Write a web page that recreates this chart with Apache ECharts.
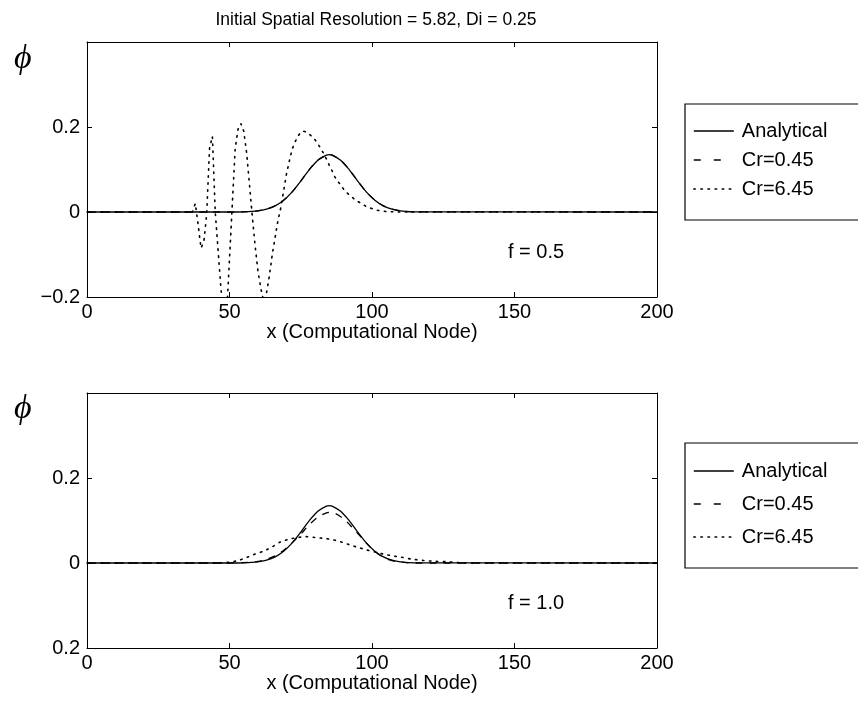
<!DOCTYPE html>
<html>
<head>
<meta charset="utf-8">
<script src="https://cdn.jsdelivr.net/npm/echarts@6/dist/echarts.min.js"></script>
<style>html,body{margin:0;padding:0;background:#fff}#c{width:858px;height:705px}</style>
</head>
<body>
<div id="c"></div>
<script>
// ---- data ----
const titleText = 'Initial Spatial Resolution = 5.82, Di = 0.25';
const xName = 'x (Computational Node)';
const seriesNames = ['Analytical', 'Cr=0.45', 'Cr=6.45'];
const panelTags = ['f = 0.5', 'f = 1.0'];
const yTickLabelsTop = {'-0.2': '\u22120.2', '0': '0', '0.2': '0.2'};
const yTickLabelsBottom = {'-0.2': '0.2', '0': '0', '0.2': '0.2'};

// Analytical solution (same in both panels)
const anaX = [0, 50, 55, 60, 63, 66, 69, 72, 75, 78, 81, 84, 85, 86, 89, 92, 95, 98, 101, 104, 107, 110, 115, 200];
const anaY = [0, 0, 0.0005, 0.0028, 0.0068, 0.0145, 0.0278, 0.0475, 0.0728, 0.0998, 0.122, 0.134, 0.135, 0.134, 0.122, 0.0998, 0.0728, 0.0475, 0.0278, 0.0145, 0.0068, 0.0028, 0.0005, 0];

// f = 0.5, Cr = 0.45 (lies on the analytical curve)
const topCr045X = [0, 50, 55, 60, 63, 66, 69, 72, 75, 78, 81, 84, 85, 86, 89, 92, 95, 98, 101, 104, 107, 110, 115, 200];
const topCr045Y = [0, 0, 0.0005, 0.0028, 0.0068, 0.0145, 0.0278, 0.0475, 0.0728, 0.0998, 0.122, 0.134, 0.135, 0.134, 0.122, 0.0998, 0.0728, 0.0475, 0.0278, 0.0145, 0.0068, 0.0028, 0.0005, 0];

// f = 0.5, Cr = 6.45 (oscillating)
const topCr645X = [0, 37, 38, 39, 40, 41, 42, 43, 44, 45, 46, 47, 48, 49, 50, 51, 52, 53, 54, 55, 56, 57, 58, 59, 60, 61, 62, 63, 64, 65, 66, 67, 68, 69, 70, 71, 72, 73, 74, 75, 76, 77, 78, 79, 80, 81, 82, 83, 84, 85, 86, 87, 88, 89, 90, 91, 92, 93, 94, 95, 96, 97, 98, 100, 102, 105, 110, 200];
const topCr645Y = [0, 0, 0.02, -0.03, -0.085, -0.07, -0.005, 0.15, 0.178, 0.0, -0.09, -0.18, -0.25, -0.24, -0.11, 0.02, 0.15, 0.195, 0.208, 0.19, 0.14, 0.065, -0.01, -0.08, -0.14, -0.18, -0.21, -0.19, -0.15, -0.10, -0.06, -0.02, 0.01, 0.05, 0.09, 0.12, 0.148, 0.165, 0.178, 0.188, 0.19, 0.188, 0.183, 0.177, 0.170, 0.16, 0.15, 0.138, 0.125, 0.11, 0.097, 0.082, 0.072, 0.064, 0.054, 0.047, 0.040, 0.035, 0.029, 0.025, 0.021, 0.017, 0.013, 0.008, 0.004, 0.001, 0, 0];

// f = 1.0, Cr = 0.45
const botCr045X = [0, 50, 55, 60, 63, 66, 69, 72, 75, 78, 81, 84, 85, 87, 90, 93, 96, 99, 102, 105, 108, 112, 115, 200];
const botCr045Y = [0, 0, 0.001, 0.004, 0.009, 0.017, 0.030, 0.048, 0.068, 0.090, 0.108, 0.118, 0.119, 0.117, 0.104, 0.084, 0.062, 0.040, 0.022, 0.010, 0.004, 0.001, 0, 0];

// f = 1.0, Cr = 6.45
const botCr645X = [0, 45, 50, 53, 56, 59, 62, 65, 68, 71, 74, 77, 80, 83, 86, 89, 92, 95, 98, 101, 104, 107, 110, 114, 118, 122, 126, 130, 135, 200];
const botCr645Y = [0, 0, 0.002, 0.006, 0.013, 0.021, 0.028, 0.038, 0.050, 0.056, 0.060, 0.062, 0.060, 0.058, 0.055, 0.050, 0.043, 0.037, 0.031, 0.026, 0.021, 0.017, 0.014, 0.009, 0.006, 0.004, 0.003, 0.001, 0, 0];

// ---- chart ----
const zip = (xs, ys) => xs.map((x, i) => [x, ys[i]]);
const FONT = 'Liberation Sans, Arial, Helvetica, sans-serif';
const FS = 20;
const styles = [
  {type: 'solid', width: 1.3},
  {type: [7, 7], width: 1.3},
  {type: [1.5, 5.5], width: 1.6, cap: 'round'}
];
const legendLineStyles = [
  {type: 'solid', width: 1.3},
  {type: [7, 13], width: 1.4},
  {type: [1.5, 5.6], width: 1.6, cap: 'round'}
];

const chart = echarts.init(document.getElementById('c'), null, {renderer: 'canvas'});

const grids = [
  {left: 87, right: 201, top: 42, height: 255},
  {left: 87, right: 201, top: 393, height: 255}
];

function xAxes(g) {
  return [
    {gridIndex: g, type: 'value', min: 0, max: 200, interval: 50, position: 'bottom',
      name: xName, nameLocation: 'middle', nameGap: 21,
      nameTextStyle: {color: '#000', fontFamily: FONT, fontSize: FS},
      axisLine: {onZero: false, lineStyle: {color: '#000', width: 1}},
      axisTick: {inside: true, length: 5, lineStyle: {color: '#000'}},
      axisLabel: {color: '#000', fontFamily: FONT, fontSize: FS, margin: 5},
      splitLine: {show: false}},
    {gridIndex: g, type: 'value', min: 0, max: 200, interval: 50, position: 'top',
      axisLine: {onZero: false, lineStyle: {color: '#000', width: 1}},
      axisTick: {inside: true, length: 5, lineStyle: {color: '#000'}},
      axisLabel: {show: false}, splitLine: {show: false}}
  ];
}
function yAxes(g, labels) {
  return [
    {gridIndex: g, type: 'value', min: -0.2, max: 0.4, interval: 0.2, position: 'left',
      axisLine: {onZero: false, lineStyle: {color: '#000', width: 1}},
      axisTick: {inside: true, length: 5, lineStyle: {color: '#000'}},
      axisLabel: {color: '#000', fontFamily: FONT, fontSize: FS, margin: 7, showMaxLabel: false,
        formatter: v => { const k = String(Math.round(v * 10) / 10); return labels[k] !== undefined ? labels[k] : ''; }},
      splitLine: {show: false}},
    {gridIndex: g, type: 'value', min: -0.2, max: 0.4, interval: 0.2, position: 'right',
      axisLine: {onZero: false, lineStyle: {color: '#000', width: 1}},
      axisTick: {inside: true, length: 5, lineStyle: {color: '#000'}},
      axisLabel: {show: false}, splitLine: {show: false}}
  ];
}

function mkSeries(name, idx, g, data) {
  return {
    name: name, type: 'line', xAxisIndex: g * 2, yAxisIndex: g * 2,
    data: data, showSymbol: false, symbol: 'none', clip: true,
    smooth: idx === 2 && g === 0 ? false : 0.3,
    lineStyle: Object.assign({color: '#000'}, styles[idx]),
    itemStyle: {color: '#000'},
    z: 3 - idx, animation: false
  };
}

const series = [
  mkSeries(seriesNames[0], 0, 0, zip(anaX, anaY)),
  mkSeries(seriesNames[1], 1, 0, zip(topCr045X, topCr045Y)),
  mkSeries(seriesNames[2], 2, 0, zip(topCr645X, topCr645Y)),
  mkSeries(seriesNames[0], 0, 1, zip(anaX, anaY)),
  mkSeries(seriesNames[1], 1, 1, zip(botCr045X, botCr045Y)),
  mkSeries(seriesNames[2], 2, 1, zip(botCr645X, botCr645Y))
];

function legend(top, gap, padTop, padBottom) {
  return {
    data: seriesNames.map((n, i) => ({name: n, lineStyle: Object.assign({color: '#000'}, legendLineStyles[i])})),
    orient: 'vertical', left: 685, top: top,
    padding: [padTop, 80, padBottom, 8], itemGap: gap, itemWidth: 40, itemHeight: 14,
    itemStyle: {opacity: 0}, selectedMode: false,
    borderColor: '#000', borderWidth: 1.2, backgroundColor: '#fff',
    textStyle: {color: '#000', fontFamily: FONT, fontSize: FS, lineHeight: 20, padding: [0, 0, 0, 3]}
  };
}

chart.setOption({
  animation: false,
  backgroundColor: '#fff',
  title: {text: titleText, left: 371, top: 6, textAlign: 'center',
    textStyle: {color: '#000', fontFamily: FONT, fontSize: 17.5, fontWeight: 'normal'}},
  grid: grids,
  xAxis: xAxes(0).concat(xAxes(1)),
  yAxis: yAxes(0, yTickLabelsTop).concat(yAxes(1, yTickLabelsBottom)),
  legend: [legend(104, 9, 17, 21), legend(443, 13, 18, 21)],
  series: series,
  graphic: [
    {type: 'text', left: 14, top: 42, style: {text: '\u03d5', fill: '#000', font: 'italic 34px "Liberation Serif", "DejaVu Serif", serif'}},
    {type: 'text', left: 14, top: 392, style: {text: '\u03d5', fill: '#000', font: 'italic 34px "Liberation Serif", "DejaVu Serif", serif'}},
    {type: 'text', left: 508, top: 242, style: {text: panelTags[0], fill: '#000', font: FS + 'px ' + FONT}},
    {type: 'text', left: 508, top: 593, style: {text: panelTags[1], fill: '#000', font: FS + 'px ' + FONT}}
  ]
});
</script>
</body>
</html>
